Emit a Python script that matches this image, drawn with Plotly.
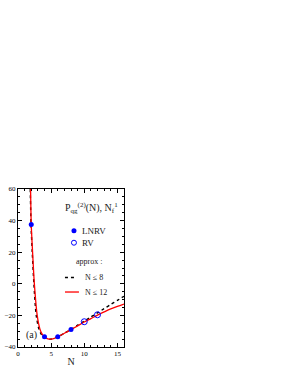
import plotly.graph_objects as go

# data
lnrv_n = [2, 4, 6, 8]
lnrv_v = [37.5, -33.5, -33.5, -29.0]
rv_n = [10, 12]
rv_v = [-24.0, -19.6]

n12_n = [1.9, 2.0, 2.2, 2.47, 2.9, 3.3, 3.6, 4.0, 4.5, 5.0, 5.5, 6.0, 7.0, 8.0, 9.0, 10.0, 11.0, 12.0, 13.0, 14.0, 15.0, 16.0]
n12_v = [60, 37.5, 20, 0, -20, -28.5, -31.5, -33.5, -34.8, -35.0, -34.5, -33.5, -31.3, -29.0, -26.6, -24.2, -22.0, -19.8, -17.8, -15.9, -14.3, -12.8]

n8_n = [1.85, 1.97, 2.15, 2.4, 2.75, 3.15, 3.5, 4.0, 4.5, 5.0, 6.0, 7.0, 8.0, 9.0, 10.0, 11.0, 12.0, 13.0, 14.0, 15.0, 16.0]
n8_v = [60, 37.5, 20, 0, -20, -28.5, -31.8, -34.0, -35.0, -35.0, -33.5, -31.3, -28.8, -26.2, -23.6, -21.0, -18.4, -15.7, -13.1, -10.5, -7.9]

x_ticks = [0, 5, 10, 15]
y_ticks = [-40, -20, 0, 20, 40, 60]

serif = "Liberation Serif, Times New Roman, serif"
txt = "#222"

fig = go.Figure()
fig.add_trace(go.Scatter(x=n8_n, y=n8_v, mode="lines", name="N ≤ 8",
                         line=dict(color="black", width=1.4, dash="dot", shape="spline", smoothing=0.8)))
fig.add_trace(go.Scatter(x=n12_n, y=n12_v, mode="lines", name="N ≤ 12",
                         line=dict(color="red", width=1.3, shape="spline", smoothing=0.8)))
fig.add_trace(go.Scatter(x=lnrv_n, y=lnrv_v, mode="markers", name="LNRV",
                         marker=dict(color="blue", size=5, symbol="circle")))
fig.add_trace(go.Scatter(x=rv_n, y=rv_v, mode="markers", name="RV",
                         marker=dict(color="blue", size=6, symbol="circle-open", line=dict(width=1))))

axis_common = dict(showline=True, linecolor="black", linewidth=1, mirror="ticks",
                   ticks="inside", ticklen=4, tickcolor="black", showgrid=False, zeroline=False,
                   automargin=False,
                   tickfont=dict(family=serif, size=7, color="black"))

fig.update_xaxes(range=[0, 16], tickvals=x_ticks,
                 minor=dict(dtick=1, ticks="inside", ticklen=2, tickcolor="black", showgrid=False),
                 title=dict(text="N", font=dict(family=serif, size=10, color=txt), standoff=2),
                 **axis_common)
fig.update_yaxes(range=[-40, 60], tickvals=y_ticks,
                 minor=dict(dtick=5, ticks="inside", ticklen=2, tickcolor="black", showgrid=False),
                 **axis_common)

def ann(x, y, text, size, anchor="left"):
    fig.add_annotation(x=x, y=y, xref="paper", yref="paper", xanchor=anchor, yanchor="middle",
                       text=text, showarrow=False, font=dict(family=serif, size=size, color=txt))

ann(0.42, 0.88, "P<sub>qg</sub><sup>(2)</sup>(N), N<sub>f</sub><sup>1</sup>", 10)
ann(0.06, 0.075, "(a)", 10)
ann(0.585, 0.736, "LNRV", 9)
ann(0.585, 0.66, "RV", 9)
ann(0.525, 0.538, "approx :", 8)
ann(0.61, 0.44, "N ≤ 8", 8)
ann(0.61, 0.348, "N ≤ 12", 8)

# legend samples (decorations)
fig.add_shape(type="circle", xref="paper", yref="paper", xsizemode="pixel", ysizemode="pixel",
              xanchor=0.528, yanchor=0.736, x0=-2.5, x1=2.5, y0=-2.5, y1=2.5,
              fillcolor="blue", line=dict(color="blue", width=0))
fig.add_shape(type="circle", xref="paper", yref="paper", xsizemode="pixel", ysizemode="pixel",
              xanchor=0.528, yanchor=0.66, x0=-2.5, x1=2.5, y0=-2.5, y1=2.5,
              fillcolor="rgba(0,0,0,0)", line=dict(color="blue", width=1))
fig.add_shape(type="line", xref="paper", yref="paper", x0=0.443, x1=0.556, y0=0.44, y1=0.44,
              line=dict(color="black", width=1.4, dash="dot"))
fig.add_shape(type="line", xref="paper", yref="paper", x0=0.443, x1=0.575, y0=0.348, y1=0.348,
              line=dict(color="red", width=1.3))

fig.update_layout(
    width=284, height=367,
    margin=dict(l=18, r=160, t=189, b=20),
    paper_bgcolor="white", plot_bgcolor="white",
    showlegend=False,
)

# remove the browser's default 8px body margin so the figure fills the window
fig.write_html("out.html", config={"displayModeBar": False},
               post_script="document.body.style.margin='0';")
